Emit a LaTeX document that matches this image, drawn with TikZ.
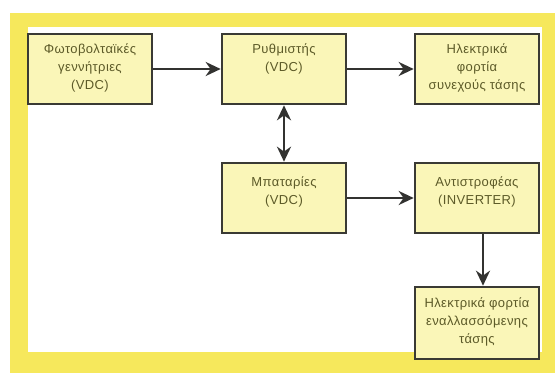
\documentclass[tikz,border=0pt]{standalone}
\usepackage{fontspec}
\setmainfont{Liberation Sans}
\newfontfamily\blockfont[LetterSpace=3]{Liberation Sans}
\usetikzlibrary{arrows.meta}
\definecolor{frameyellow}{RGB}{246,232,92}
\definecolor{boxfill}{RGB}{250,246,184}
\definecolor{boxline}{RGB}{58,58,52}
\definecolor{txt}{RGB}{92,90,40}
\definecolor{arrowcol}{RGB}{50,50,48}
\begin{document}
\begin{tikzpicture}[x=1pt,y=1pt,
  blockbox/.style={draw=boxline, fill=boxfill, line width=2.6pt, minimum width=124pt, minimum height=70pt, inner sep=0pt},
  blocktext/.style={anchor=north, align=center, text=txt, font=\blockfont\fontsize{13}{18}\selectfont, inner sep=0pt},
  tip/.style={Stealth[length=15pt,width=14pt]},
  conn/.style={draw=arrowcol, line width=2.4pt, -{Stealth[length=15pt,width=14pt]}},
  dconn/.style={draw=arrowcol, line width=2.4pt, {Stealth[length=15pt,width=14pt]}-{Stealth[length=15pt,width=14pt]}}]
\useasboundingbox (0,0) rectangle (555,373);
\fill[white] (0,0) rectangle (555,373);
\fill[frameyellow] (10,0) rectangle (555,360);
\fill[white] (27.5,21) rectangle (542,346);
\node[blockbox] (b1) at (90,304) {};
\node[blockbox] (b2) at (284,304) {};
\node[blockbox] (b3) at (477,304) {};
\node[blockbox] (b4) at (284,175) {};
\node[blockbox] (b5) at (477,175) {};
\node[blockbox, minimum height=72pt] (b6) at (477,50) {};
\node[blocktext] (t1) at ([yshift=-11pt]b1.north) {Φωτοβολταϊκές\\γεννήτριες\\(VDC)};
\node[blocktext] (t2) at ([yshift=-11pt]b2.north) {Ρυθμιστής\\(VDC)};
\node[blocktext] (t3) at ([yshift=-11pt]b3.north) {Ηλεκτρικά\\φορτία\\συνεχούς τάσης};
\node[blocktext] (t4) at ([yshift=-15pt]b4.north) {Μπαταρίες\\(VDC)};
\node[blocktext] (t5) at ([yshift=-15pt]b5.north) {Αντιστροφέας\\(INVERTER)};
\node[blocktext] (t6) at ([yshift=-12pt]b6.north) {Ηλεκτρικά φορτία\\εναλλασσόμενης\\τάσης};
\draw[conn] (b1.east) -- (b2.west);
\draw[conn] (b2.east) -- (b3.west);
\draw[conn] (b4.east) -- (b5.west);
\draw[dconn] (b2.south) -- (b4.north);
\draw[conn] ([xshift=6pt]b5.south) -- ([xshift=6pt]b6.north);
\end{tikzpicture}
\end{document}
